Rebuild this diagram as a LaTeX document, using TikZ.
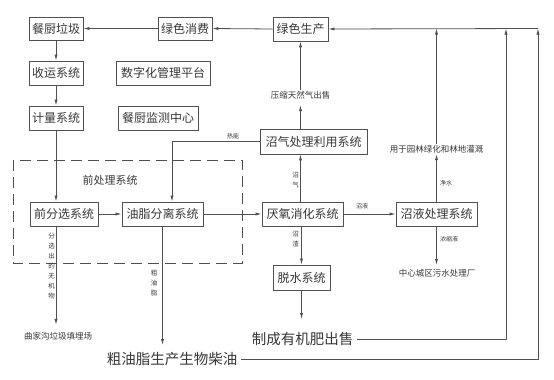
\documentclass[tikz,border=0pt]{standalone}
\usepackage{fontspec}
\setmainfont{Noto Sans CJK SC}
\usetikzlibrary{arrows.meta}
\definecolor{ln}{HTML}{505050}
\definecolor{tx}{HTML}{383838}
\begin{document}
\begin{tikzpicture}[x=1pt,y=-1pt,
  box/.style={draw=ln,line width=0.9pt,fill=white,text=tx,inner sep=0pt,minimum height=24pt,font=\fontsize{12}{14}\selectfont},
  lbl/.style={text=tx,inner sep=1pt,font=\fontsize{8.5}{10}\selectfont},
  tiny/.style={text=tx,inner sep=0pt,font=\fontsize{6}{7}\selectfont},
  vlbl/.style={text=tx,inner sep=0pt,align=center,font=\fontsize{6.5}{10}\selectfont},
  big/.style={text=tx,inner sep=1pt,font=\fontsize{14.5}{16}\selectfont},
  arr/.style={draw=ln,line width=0.8pt,-{Latex[length=6pt,width=3.2pt]}},
  ln/.style={draw=ln,line width=0.8pt}]
\fill[white] (0,0) rectangle (554,380);
\useasboundingbox (0,0) rectangle (554,380);
% dashed frame
\draw[ln,dash pattern=on 11pt off 6pt] (13,160) rectangle (242,263);
\node[text=tx,font=\fontsize{11}{13}\selectfont] (qcl) at (110,180) {前处理系统};
% boxes
\node[box,minimum width=54pt,minimum height=23pt] (gl) at (56,28.5) {餐厨垃圾};
\node[box,minimum width=54pt,minimum height=23pt] (xf) at (185,28.5) {绿色消费};
\node[box,minimum width=55pt] (sc) at (300.5,29) {绿色生产};
\node[box,minimum width=54pt] (sy) at (56,73) {收运系统};
\node[box,minimum width=94pt] (sz) at (163,73) {数字化管理平台};
\node[box,minimum width=54pt] (jl) at (56,118) {计量系统};
\node[box,minimum width=80pt] (jc) at (158,118) {餐厨监测中心};
\node[box,minimum width=107pt,minimum height=25pt] (zq) at (313.5,141.5) {沼气处理利用系统};
\node[box,minimum width=68pt] (qf) at (64,214) {前分选系统};
\node[box,minimum width=81pt] (yz) at (162.5,214) {油脂分离系统};
\node[box,minimum width=81pt] (ya) at (302.5,214) {厌氧消化系统};
\node[box,minimum width=81pt] (zy) at (436.5,214) {沼液处理系统};
\node[box,minimum width=57pt,minimum height=25pt] (ts) at (301.5,277.5) {脱水系统};
% text nodes
\node[lbl] (ysq) at (300.5,95) {压缩天然气出售};
\node[lbl] (yl) at (436.5,149) {用于园林绿化和林地灌溉};
\node[lbl] (wsc) at (437,273) {中心城区污水处理厂};
\node[lbl] (tml) at (58,336) {曲家沟垃圾填埋场};
\node[big] (cyz) at (172,359) {粗油脂生产生物柴油};
\node[big] (yjf) at (302.5,339) {制成有机肥出售};
% small labels
\node[tiny] (rn) at (233,136) {热能};
\node[tiny] (zyl) at (362,206) {沼液};
\node[tiny] (js) at (446,183) {净水};
\node[tiny] (nsy) at (449,239) {浓缩液};
\node[vlbl] (zql) at (295.5,180) {沼\\气};
\node[vlbl] (zzl) at (295.5,239) {沼\\渣};
\node[vlbl] (fxl) at (51.5,266) {分\\选\\出\\的\\无\\机\\物};
\node[vlbl] (cyl) at (154,283) {粗\\油\\脂};
% corner coordinates
\coordinate (r1) at (506,28.5);
\coordinate (r2) at (538,28.5);
% connectors
\draw[arr] (xf.west) -- (gl.east);
\draw[arr] (sc.west) -- (xf.east);
\draw[arr] (gl.south) -- (sy.north);
\draw[arr] (sy.south) -- (jl.north);
\draw[arr] (jl.south) -- (jl.south |- qf.north);
\draw[arr] (zq.west) -| ([xshift=9.5pt]yz.north);
\draw[arr] (qf.east) -- (yz.west);
\draw[arr] (yz.east) -- (ya.west);
\draw[arr] (ya.east) -- (zy.west);
\draw[arr] (ya.north -| sc.south) -- (zq.south -| sc.south);
\draw[arr,shorten >=5pt] (zq.north -| sc.south) -- (ysq.south -| sc.south);
\draw[arr] (ysq.north -| sc.south) -- (sc.south);
\draw[arr] (ya.south -| ts.north) -- (ts.north);
\draw[arr,shorten >=12pt] (ts.south) -- (yjf.north -| ts.south);
\draw[arr] (zy.north) -- (yl.south);
\draw[arr] (yl.north) -- (yl.north |- r1);
\draw[arr,shorten >=3pt] (zy.south) -- (wsc.north -| zy.south);
\draw[arr,shorten >=6pt] (qf.south -| jl.south) -- (tml.north -| jl.south);
\draw[arr,shorten >=6pt] (yz.south) -- (cyz.north -| yz.south);
\draw[arr] ([xshift=3pt]yjf.east) -| (r1);
\draw[arr] ([xshift=3pt]cyz.east) -| (r2);
\draw[arr] (r2) -- (sc.east);
\end{tikzpicture}
\end{document}
